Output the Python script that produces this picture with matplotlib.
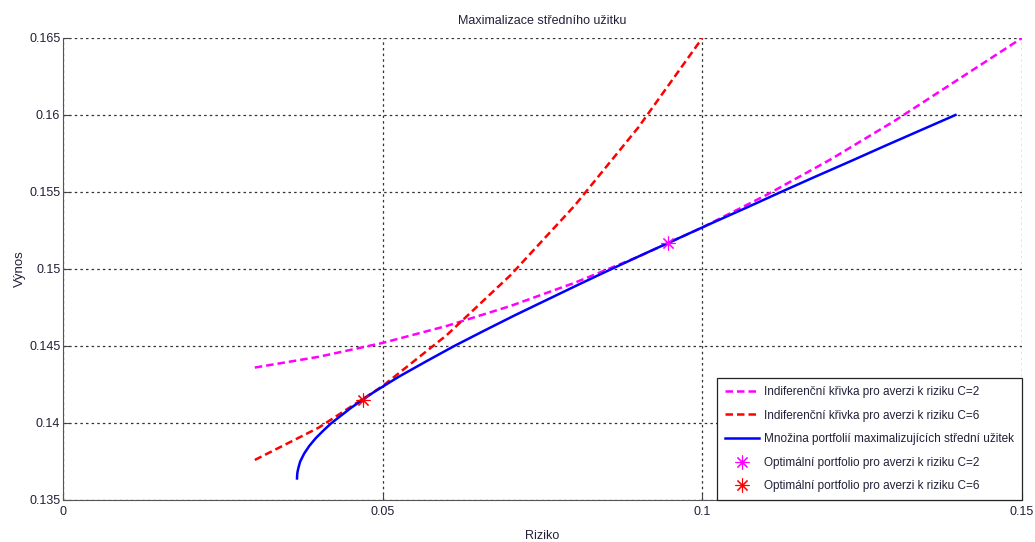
import matplotlib
matplotlib.use("Agg")
import matplotlib.pyplot as plt
from matplotlib.ticker import FuncFormatter

plt.rcParams['font.family'] = ['Liberation Sans', 'DejaVu Sans']

# indiference curve C=2
risk_c2 = [0.03, 0.04, 0.05, 0.06, 0.07, 0.08, 0.09, 0.10, 0.11, 0.12, 0.13, 0.14, 0.15]
ret_c2 = [0.1436, 0.1443, 0.1452, 0.1463, 0.1476, 0.1491, 0.1508, 0.1527,
          0.1548, 0.1571, 0.1596, 0.1623, 0.1650]

# indiference curve C=6
risk_c6 = [0.03, 0.04, 0.05, 0.06, 0.07, 0.08, 0.09, 0.10]
ret_c6 = [0.1376, 0.1397, 0.1424, 0.1457, 0.1496, 0.1541, 0.1592, 0.1650]

# set of utility maximizing portfolios
ret_front = [0.1364, 0.1366, 0.1368, 0.1370, 0.1372, 0.1375, 0.1380, 0.1385, 0.1390,
             0.1395, 0.1400, 0.1410, 0.1420, 0.1430, 0.1440, 0.1450, 0.1460,
             0.1470, 0.1480, 0.1490, 0.1500, 0.1510, 0.1520, 0.1530, 0.1540,
             0.1550, 0.1560, 0.1570, 0.1580, 0.1590, 0.1600]
risk_front = [0.0366, 0.03662, 0.03667, 0.03677, 0.03689, 0.0371, 0.0377, 0.0385, 0.0395,
              0.0407, 0.0420, 0.0451, 0.0486, 0.0525, 0.0568, 0.0612, 0.0659,
              0.0707, 0.0757, 0.0807, 0.0858, 0.0910, 0.0963, 0.1016, 0.1070,
              0.1123, 0.1177, 0.1232, 0.1286, 0.1341, 0.1396]

# optimal portfolios
opt_c2 = (0.0946, 0.1517)
opt_c6 = (0.0469, 0.1415)

labels = ["Indiferenční křivka pro averzi k riziku C=2",
          "Indiferenční křivka pro averzi k riziku C=6",
          "Množina portfolií maximalizujících střední užitek",
          "Optimální portfolio pro averzi k riziku C=2",
          "Optimální portfolio pro averzi k riziku C=6"]

txt = '#202038'

fig = plt.figure(figsize=(10.35, 5.42), dpi=100)
ax = fig.add_axes([0.0609, 0.0775, 0.9265, 0.8524])

ax.plot(risk_c2, ret_c2, '--', color='magenta', lw=1.8, dashes=(3, 1.6), label=labels[0])
ax.plot(risk_c6, ret_c6, '--', color='red', lw=1.8, dashes=(3, 1.6), label=labels[1])
ax.plot(risk_front, ret_front, '-', color='blue', lw=1.8, label=labels[2])
ax.plot(opt_c2[0], opt_c2[1], ls='none', marker=(8, 2, 0), ms=10, mew=0.8,
        color='magenta', label=labels[3])
ax.plot(opt_c6[0], opt_c6[1], ls='none', marker=(8, 2, 0), ms=10, mew=0.8,
        color='red', label=labels[4])

ax.set_xlim(0, 0.15)
ax.set_ylim(0.135, 0.165)
ax.set_xticks([0, 0.05, 0.1, 0.15])
ax.set_yticks([0.135, 0.14, 0.145, 0.15, 0.155, 0.16, 0.165])
fmt = FuncFormatter(lambda v, p: '%g' % round(v, 4))
ax.xaxis.set_major_formatter(fmt)
ax.yaxis.set_major_formatter(fmt)
ax.tick_params(direction='in', length=5, width=0.8, labelsize=9,
               colors='#444444', labelcolor=txt)
ax.tick_params(axis='x', pad=4)
ax.tick_params(axis='y', pad=2)

ax.grid(True, color='#333333', ls=(0, (2, 2.5)), lw=0.9)
ax.spines['top'].set_visible(False)
ax.spines['right'].set_visible(False)
ax.spines['left'].set_color('#555555')
ax.spines['bottom'].set_color('#555555')

ax.set_title("Maximalizace středního užitku", fontsize=9, color=txt, pad=10)
ax.set_xlabel("Riziko", fontsize=9, color=txt, labelpad=9)
ax.set_ylabel("Výnos", fontsize=9.5, color=txt, labelpad=2)

leg = ax.legend(loc='lower right', borderaxespad=0, fontsize=8.5, frameon=True,
                fancybox=False, edgecolor='#222222', framealpha=1,
                handlelength=2.9, handletextpad=0.45, labelspacing=0.98,
                borderpad=0.65)
leg.get_frame().set_linewidth(0.9)
for t in leg.get_texts():
    t.set_color(txt)

fig.savefig("out.png", dpi=100)
